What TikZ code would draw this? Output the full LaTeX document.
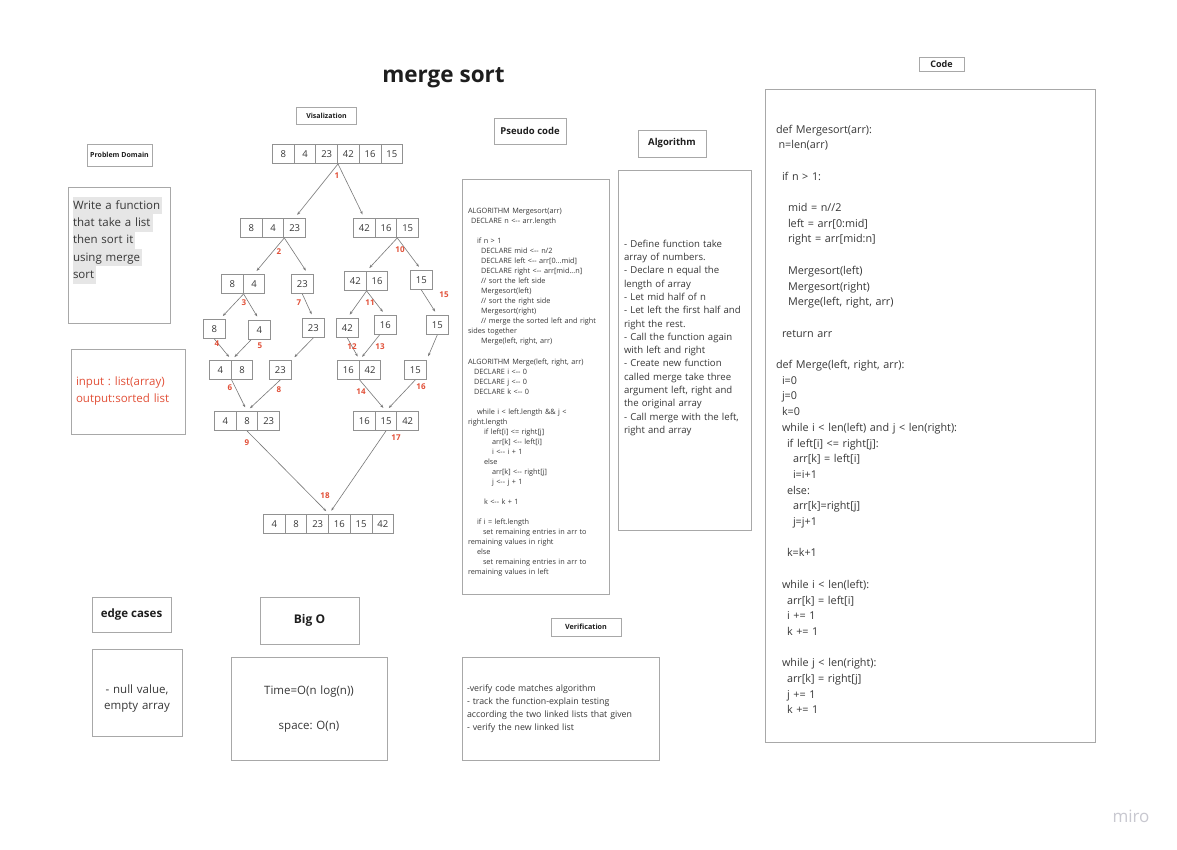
\documentclass[tikz,border=0pt]{standalone}
\usepackage{fontspec}
\setmainfont{Open Sans}
\usetikzlibrary{arrows.meta}

\definecolor{boxgray}{RGB}{168,168,168}
\definecolor{cellgray}{RGB}{145,145,145}
\definecolor{arrgray}{RGB}{120,120,120}
\definecolor{txtgray}{RGB}{55,55,55}
\definecolor{headgray}{RGB}{30,30,30}
\definecolor{numred}{RGB}{226,80,56}
\definecolor{hlgray}{RGB}{230,230,230}
\definecolor{mirogray}{RGB}{200,200,208}

\frenchspacing
\setlength{\fboxsep}{0pt}
\newcommand{\fs}[2]{\fontsize{#1}{#2}\selectfont}
\newcommand{\ind}[1]{\hspace*{#1pt}}
\newcommand{\la}{<-\kern0pt-}
\newcommand{\hl}[1]{\colorbox{hlgray}{\strut#1\hspace{2pt}}}
\newcommand{\cells}[4]{%
  \foreach \v [count=\i] in {#4}
    \node[cell] (#1-\i) at ({#2+(\i-1)*21.7},#3) {\v};}

\tikzset{
  cell/.style={draw=cellgray, line width=0.9pt, minimum width=21.7pt,
    minimum height=19pt, inner sep=0pt, anchor=north west, text=txtgray,
    font=\fs{9.5}{11}},
  conn/.style={draw=arrgray, line width=0.6pt,
    -{Stealth[length=3.5pt,width=2.6pt]}, shorten >=4pt},
  stepnum/.style={text=numred, font=\bfseries\fs{8}{9}, inner sep=0pt},
  head/.style={draw=boxgray, line width=1pt, text=headgray, inner sep=0pt},
  panel/.style={draw=boxgray, line width=1pt, text=txtgray, inner ysep=0pt,
    align=left},
}

\begin{document}
\begin{tikzpicture}[x=1pt,y=-1pt]
  \fill[white] (0,0) rectangle (1177,849);
  \useasboundingbox (0,0) rectangle (1177,849);

  % title and headings
  \node[text=headgray, font=\bfseries\fs{22.5}{26}, anchor=base] (title) at (443.5,82) {merge sort};
  \node[head, minimum width=65pt, minimum height=22pt, font=\bfseries\fs{7}{8}] (pdlbl) at (119.5,155) {Problem Domain};
  \node[head, minimum width=60pt, minimum height=17pt, font=\bfseries\fs{7}{8}] (vislbl) at (326.5,115.5) {Visalization};
  \node[head, minimum width=72pt, minimum height=26pt, font=\bfseries\fs{9.5}{11}] (pclbl) at (530,131) {Pseudo code};
  \node[head, minimum width=68pt, minimum height=27pt, font=\bfseries\fs{9.5}{11}] (alglbl) at (672,143.5) {Algorithm};
  \node[head, minimum width=45pt, minimum height=14pt, font=\bfseries\fs{9}{10}] (codelbl) at (941.5,64) {Code};
  \node[head, minimum width=79pt, minimum height=35pt, font=\bfseries\fs{11.5}{13}] (edgelbl) at (131.5,614.5) {edge cases};
  \node[head, minimum width=99pt, minimum height=47pt, font=\bfseries\fs{12}{14}] (biglbl) at (309.5,620.5) {Big O};
  \node[head, minimum width=70pt, minimum height=18pt, font=\bfseries\fs{7.2}{8}] (verlbl) at (586,627) {Verification};

  % text panels
  \node[panel, text width=92pt, inner xsep=5pt, minimum height=136pt, font=\fs{11.5}{17.3}] (prob) at (119,255)
    {\hl{Write a function}\\ \hl{that take a list}\\ \hl{then sort it}\\ \hl{using merge}\\ \hl{sort}\\ \mbox{}\\ \mbox{}};
  \node[panel, text width=104pt, inner xsep=5pt, minimum height=85pt, text=numred, font=\fs{11.5}{17}] (io) at (128,391.5)
    {input : list(array)\\ output:sorted list};
  \node[panel, text width=135pt, inner xsep=6pt, minimum height=415pt, font=\fs{7.3}{10.03}] (pseudo) at (535.5,386.5)
    {\rule{0pt}{17pt}ALGORITHM Mergesort(arr)\\
     \ind{3}DECLARE n \la{} arr.length\\[10.03pt]
     \ind{9}if n > 1\\
     \ind{13}DECLARE mid \la{} n/2\\
     \ind{13}DECLARE left \la{} arr[0...mid]\\
     \ind{13}DECLARE right \la{} arr[mid...n]\\
     \ind{13}// sort the left side\\
     \ind{13}Mergesort(left)\\
     \ind{13}// sort the right side\\
     \ind{13}Mergesort(right)\\
     \ind{13}// merge the sorted left and right\\
     sides together\\
     \ind{13}Merge(left, right, arr)\\[10.03pt]
     ALGORITHM Merge(left, right, arr)\\
     \ind{6}DECLARE i \la{} 0\\
     \ind{6}DECLARE j \la{} 0\\
     \ind{6}DECLARE k \la{} 0\\[10.03pt]
     \ind{9}while i < left.length \&\& j <\\
     right.length\\
     \ind{16}if left[i] <= right[j]\\
     \ind{24}arr[k] \la{} left[i]\\
     \ind{24}i \la{} i + 1\\
     \ind{16}else\\
     \ind{24}arr[k] \la{} right[j]\\
     \ind{24}j \la{} j + 1\\[10.03pt]
     \ind{16}k \la{} k + 1\\[10.03pt]
     \ind{9}if i = left.length\\
     \ind{15}set remaining entries in arr to\\
     remaining values in right\\
     \ind{9}else\\
     \ind{15}set remaining entries in arr to\\
     remaining values in left};
  \node[panel, text width=121pt, inner xsep=6pt, minimum height=360pt, font=\fs{9.6}{13.3}] (algo) at (684.5,350)
    {- Define function take\\
     array of numbers.\\
     - Declare n equal the\\
     length of array\\
     - Let mid half of n\\
     - Let left the first half and\\
     right the rest.\\
     - Call the function again\\
     with left and right\\
     - Create new function\\
     called merge take three\\
     argument left, right and\\
     the original array\\
     - Call merge with the left,\\
     right and array\\ \mbox{}\\ \mbox{}};
  \node[panel, text width=308pt, inner xsep=11pt, minimum height=653pt, font=\fs{10.8}{15.7}] (code) at (930,415.5)
    {\rule{0pt}{16pt}def Mergesort(arr):\\
     \ind{2.5}n=len(arr)\\[15.7pt]
     \ind{6}if n > 1:\\[15.7pt]
     \ind{12}mid = n//2\\
     \ind{12}left = arr[0:mid]\\
     \ind{12}right = arr[mid:n]\\[15.7pt]
     \ind{12}Mergesort(left)\\
     \ind{12}Mergesort(right)\\
     \ind{12}Merge(left, right, arr)\\[15.7pt]
     \ind{6}return arr\\[15.7pt]
     def Merge(left, right, arr):\\
     \ind{6}i=0\\
     \ind{6}j=0\\
     \ind{6}k=0\\
     \ind{6}while i < len(left) and j < len(right):\\
     \ind{11}if left[i] <= right[j]:\\
     \ind{17}arr[k] = left[i]\\
     \ind{17}i=i+1\\
     \ind{11}else:\\
     \ind{17}arr[k]=right[j]\\
     \ind{17}j=j+1\\[15.7pt]
     \ind{11}k=k+1\\[15.7pt]
     \ind{6}while i < len(left):\\
     \ind{11}arr[k] = left[i]\\
     \ind{11}i += 1\\
     \ind{11}k += 1\\[15.7pt]
     \ind{6}while j < len(right):\\
     \ind{11}arr[k] = right[j]\\
     \ind{11}j += 1\\
     \ind{11}k += 1};
  \node[panel, align=center, text width=80pt, inner xsep=5pt, minimum height=87pt, font=\fs{11.5}{16.5}] (edge) at (137,692.5)
    {\rule{0pt}{21pt}- null value,\\ empty array};
  \node[panel, align=center, text width=146pt, inner xsep=5pt, minimum height=103pt, font=\fs{11.5}{17.5}] (bigo) at (309,708.5)
    {Time=O(n log(n))\\[17.5pt] space: O(n)};
  \node[panel, text width=187pt, inner xsep=5pt, minimum height=103pt, font=\fs{8.8}{13.2}] (verif) at (560.5,708.5)
    {-verify code matches algorithm\\
     - track the function-explain testing\\
     according the two linked lists that given\\
     - verify the new linked list};
  \node[text=mirogray, font=\fs{17}{20}] (miro) at (1131,816) {miro};

  % visualization arrays
  \cells{r0}{272}{144}{8,4,23,42,16,15}
  \cells{r1l}{240}{218}{8,4,23}
  \cells{r1r}{353}{218}{42,16,15}
  \cells{r2a}{221}{274}{8,4}
  \cells{r2b}{291}{274}{23}
  \cells{r2c}{344}{271}{42,16}
  \cells{r2d}{410}{270}{15}
  \cells{r3a}{203}{319}{8}
  \cells{r3b}{248}{320}{4}
  \cells{r3c}{302}{318}{23}
  \cells{r3d}{336}{318}{42}
  \cells{r3e}{374}{315}{16}
  \cells{r3f}{426}{315}{15}
  \cells{r4a}{209}{360}{4,8}
  \cells{r4b}{269}{360}{23}
  \cells{r4c}{337}{360}{16,42}
  \cells{r4d}{404}{360}{15}
  \cells{r5a}{214}{411}{4,8,23}
  \cells{r5b}{353}{411}{16,15,42}
  \cells{r6}{263}{514}{4,8,23,16,15,42}

  % split and merge arrows
  \draw[conn] (r0-3.south east) -- (r1l-3.north);
  \draw[conn] (r0-3.south east) -- (r1r-1.north);
  \draw[conn] (r1l-2.south east) -- (r2a-2.north);
  \draw[conn] (r1l-2.south east) -- (r2b-1.60);
  \draw[conn] (r1r-2.south east) -- (r2c-1.north east);
  \draw[conn] (r1r-2.south east) -- (r2d-1.north);
  \draw[conn] (r2a-1.south east) -- (r3a-1.60);
  \draw[conn] (r2a-1.south east) -- (r3b-1.north);
  \draw[conn] (r2b-1.south) -- (r3c-1.north);
  \draw[conn] (r2c-1.south east) -- (r3d-1.north);
  \draw[conn] (r2c-1.south east) -- (r3e-1.north);
  \draw[conn] (r2d-1.south) -- (r3f-1.north);
  \draw[conn] (r3a-1.south) -- (r4a-1.north east);
  \draw[conn] (r3b-1.-130) -- (r4a-1.north east);
  \draw[conn] (r3c-1.south) -- (r4b-1.north east);
  \draw[conn] (r3d-1.south) -- (r4c-1.north east);
  \draw[conn] (r3e-1.-120) -- (r4c-1.north east);
  \draw[conn] (r3f-1.south) -- (r4d-1.north east);
  \draw[conn] (r4a-1.south east) -- (r5a-2.north);
  \draw[conn] (r4b-1.south) -- (r5a-2.north);
  \draw[conn] (r4c-1.south east) -- (r5b-2.north);
  \draw[conn] (r4d-1.south) -- (r5b-2.north);
  \draw[conn] (r5a-2.south) -- (r6-3.north east);
  \draw[conn] (r5b-2.south) -- (r6-3.north east);

  % step numbers
  \node[stepnum] (s1) at (337,176) {1};
  \node[stepnum] (s2) at (279,252) {2};
  \node[stepnum] (s3) at (244,303) {3};
  \node[stepnum] (s4) at (217,344) {4};
  \node[stepnum] (s5) at (260,346) {5};
  \node[stepnum] (s6) at (230,388) {6};
  \node[stepnum] (s7) at (299,303) {7};
  \node[stepnum] (s8) at (279,390) {8};
  \node[stepnum] (s9) at (247,443) {9};
  \node[stepnum] (s10) at (400,250) {10};
  \node[stepnum] (s11) at (370,303) {11};
  \node[stepnum] (s12) at (352,347) {12};
  \node[stepnum] (s13) at (380,347) {13};
  \node[stepnum] (s14) at (361,392) {14};
  \node[stepnum] (s15) at (444,295) {15};
  \node[stepnum] (s16) at (421,387) {16};
  \node[stepnum] (s17) at (396,438) {17};
  \node[stepnum] (s18) at (325,496) {18};
\end{tikzpicture}
\end{document}
